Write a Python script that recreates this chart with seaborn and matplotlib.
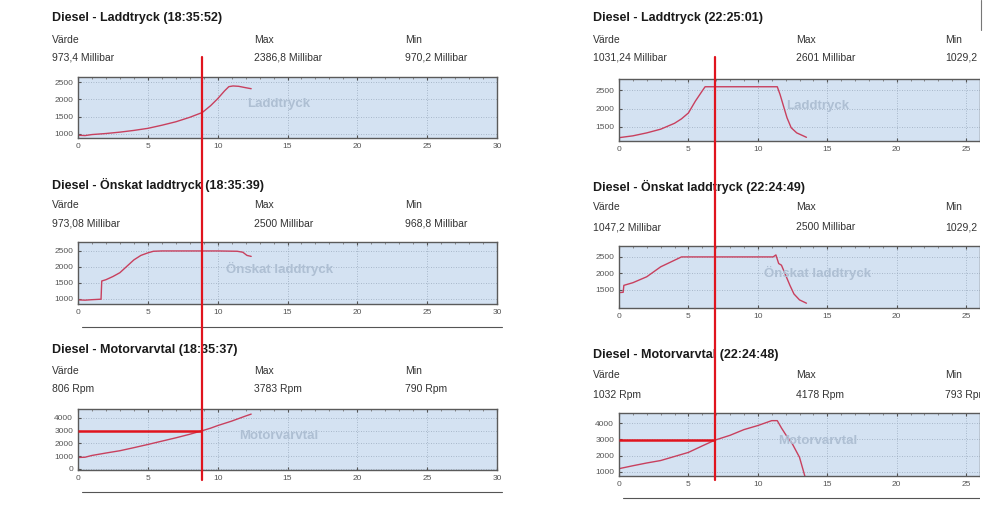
import matplotlib.pyplot as plt
import seaborn as sns
from matplotlib.lines import Line2D
from matplotlib.patches import Rectangle
from matplotlib.ticker import MultipleLocator
import matplotlib.transforms as mtransforms

# --- data ---------------------------------------------------------------
# left run (18:35)
left_ladd_t = [0, 0.5, 1, 2, 3, 4, 5, 6, 7, 8, 8.9, 9.5, 10, 10.5, 10.8, 11.1, 11.5, 12, 12.4]
left_ladd_v = [960, 950, 980, 1010, 1050, 1100, 1160, 1250, 1350, 1480, 1620, 1820, 2020,
               2250, 2370, 2390, 2380, 2340, 2310]

left_onsk_t = [0, 0.5, 1, 1.65, 1.7, 2, 2.5, 3, 3.5, 4, 4.5, 5, 5.4, 6, 8, 10, 11.4, 11.8, 12.1, 12.4]
left_onsk_v = [970, 960, 975, 990, 1560, 1600, 1700, 1820, 2020, 2220, 2360, 2440, 2490,
               2500, 2500, 2500, 2490, 2460, 2360, 2330]

left_rpm_t = [0, 0.5, 1, 2, 3, 4, 5, 6, 7, 8, 8.9, 9.5, 10, 11, 12, 12.4]
left_rpm_v = [900, 920, 1060, 1250, 1430, 1670, 1920, 2180, 2440, 2720, 3000, 3200, 3400,
              3750, 4150, 4300]

# right run (22:24)
right_ladd_t = [0, 1, 2, 3, 4, 4.5, 5, 5.5, 6, 6.2, 8, 10, 11.4, 11.6, 11.9, 12.1, 12.4, 12.8, 13.5]
right_ladd_v = [1210, 1260, 1340, 1440, 1600, 1720, 1880, 2200, 2480, 2590, 2590, 2590, 2590,
                2380, 2000, 1750, 1480, 1340, 1220]

right_onsk_t = [0, 0.3, 0.35, 1, 2, 3, 4, 4.5, 6, 8, 10, 11.1, 11.3, 11.5, 11.7, 12, 12.3, 12.6, 13, 13.5]
right_onsk_v = [1420, 1430, 1640, 1720, 1900, 2200, 2400, 2500, 2500, 2500, 2500, 2500, 2560,
                2300, 2250, 1950, 1650, 1380, 1200, 1100]

right_rpm_t = [0, 1, 2, 3, 4, 5, 6, 6.9, 8, 9, 10, 10.5, 11, 11.4, 11.7, 12, 12.5, 13, 13.4]
right_rpm_v = [1200, 1380, 1550, 1700, 1950, 2200, 2600, 2950, 3250, 3600, 3850, 4000, 4150,
               4150, 3700, 3300, 2700, 1900, 700]

left_cursor_t, left_cursor_rpm = 8.9, 3000
right_cursor_t, right_cursor_rpm = 6.9, 2950

titles_left = ["Diesel - Laddtryck (18:35:52)", "Diesel - Önskat laddtryck (18:35:39)",
               "Diesel - Motorvarvtal (18:35:37)"]
titles_right = ["Diesel - Laddtryck (22:25:01)", "Diesel - Önskat laddtryck (22:24:49)",
                "Diesel - Motorvarvtal (22:24:48)"]
values_left = [("973,4 Millibar", "2386,8 Millibar", "970,2 Millibar"),
               ("973,08 Millibar", "2500 Millibar", "968,8 Millibar"),
               ("806 Rpm", "3783 Rpm", "790 Rpm")]
values_right = [("1031,24 Millibar", "2601 Millibar", "1029,2"),
                ("1047,2 Millibar", "2500 Millibar", "1029,2"),
                ("1032 Rpm", "4178 Rpm", "793 Rpm")]
watermarks = ["Laddtryck", "Önskat laddtryck", "Motorvarvtal"]

W, H = 1000, 512
BG = "#d4e2f2"
LINE = "#c8405e"
RED = "#e0141e"

sns.set_style("white")
plt.rcParams["font.family"] = ["Liberation Sans", "DejaVu Sans"]

fig = plt.figure(figsize=(W / 100, H / 100), dpi=100)


def px_box(x0, y0, x1, y1):
    return [x0 / W, 1 - y1 / H, (x1 - x0) / W, (y1 - y0) / H]


def fig_text(x, y, s, color="#1a1a1a", **kw):
    fig.text(x / W, 1 - y / H, s, va="center", ha="left", color=color, **kw)


def make_panel(box, t, v, xlim, ylim, yticks, mark, mark_x):
    ax = fig.add_axes(px_box(*box))
    ax.set_facecolor(BG)
    sns.lineplot(x=t, y=v, ax=ax, color=LINE, linewidth=1.0, estimator=None, sort=False)
    ax.set_xlim(*xlim)
    ax.set_ylim(*ylim)
    ax.set_yticks(yticks)
    ax.xaxis.set_major_locator(MultipleLocator(5))
    ax.xaxis.set_minor_locator(MultipleLocator(1))
    ax.tick_params(axis="both", which="major", labelsize=6, labelcolor="#555555",
                   length=2, direction="in", top=True, bottom=True, left=True, color="#555555")
    ax.tick_params(axis="x", which="minor", length=1.5, direction="in", top=True, color="#777777")
    ax.grid(True, which="major", color="#9aaabd", linestyle=(0, (1, 2)), linewidth=0.6)
    for side, sp in ax.spines.items():
        sp.set_color("#5a5a5a")
        sp.set_linewidth(1.0)
    ax.text(mark_x, 0.56, mark, transform=ax.transAxes, ha="center", va="center",
            fontsize=9.5, fontweight="bold", color="#aebfd3")
    return ax


# --- panels --------------------------------------------------------------
left_boxes = [(78, 77, 497, 138), (78, 242, 497, 304), (78, 409, 497, 470)]
right_boxes = [(619, 79, 980, 141), (619, 246, 980, 308), (619, 413, 980, 476)]

left_axes = [
    make_panel(left_boxes[0], left_ladd_t, left_ladd_v, (0, 30), (880, 2650),
               [1000, 1500, 2000, 2500], watermarks[0], 0.48),
    make_panel(left_boxes[1], left_onsk_t, left_onsk_v, (0, 30), (840, 2780),
               [1000, 1500, 2000, 2500], watermarks[1], 0.48),
    make_panel(left_boxes[2], left_rpm_t, left_rpm_v, (0, 30), (-80, 4700),
               [0, 1000, 2000, 3000, 4000], watermarks[2], 0.48),
]
right_axes = [
    make_panel(right_boxes[0], right_ladd_t, right_ladd_v, (0, 26), (1120, 2800),
               [1500, 2000, 2500], watermarks[0], 0.55),
    make_panel(right_boxes[1], right_onsk_t, right_onsk_v, (0, 26), (955, 2830),
               [1500, 2000, 2500], watermarks[1], 0.55),
    make_panel(right_boxes[2], right_rpm_t, right_rpm_v, (0, 26), (750, 4620),
               [1000, 2000, 3000, 4000], watermarks[2], 0.55),
]

# --- header texts --------------------------------------------------------
left_rows = [(18, 40, 57), (185, 205, 224), (350, 371, 389)]
right_rows = [(18, 40, 58), (187, 207, 227), (355, 375, 395)]
for cols, rows, titles, values in [((52, 254, 405), left_rows, titles_left, values_left),
                                   ((593, 796, 945), right_rows, titles_right, values_right)]:
    for (ty, ly, vy), title, vals in zip(rows, titles, values):
        fig_text(cols[0], ty, title, fontsize=9, fontweight="bold")
        for cx, lab, val in zip(cols, ["Värde", "Max", "Min"], vals):
            fig_text(cx, ly, lab, fontsize=7.5, color="#333333")
            fig_text(cx, vy, val, fontsize=7.5, color="#333333")

# separator rules under the panels
for x0, x1, y in [(82, 502, 327), (82, 502, 492), (623, 980, 498)]:
    fig.add_artist(Line2D([x0 / W, x1 / W], [1 - y / H, 1 - y / H], color="#555555", linewidth=0.8))

# screenshot cut on the right edge
fig.add_artist(Rectangle((980 / W, 0), 20 / W, 1, transform=fig.transFigure,
                         facecolor="white", edgecolor="none", zorder=10))
fig.add_artist(Line2D([981 / W, 981 / W], [1, 1 - 30 / H], color="#777777", linewidth=0.8, zorder=11))

# --- red cursor lines ----------------------------------------------------
for axes, ct, crpm in [(left_axes, left_cursor_t, left_cursor_rpm),
                       (right_axes, right_cursor_t, right_cursor_rpm)]:
    trans = mtransforms.blended_transform_factory(axes[2].transData, fig.transFigure)
    fig.add_artist(Line2D([ct, ct], [1 - 57 / H, 1 - 480 / H], transform=trans,
                          color=RED, linewidth=1.6, zorder=12))
    axes[2].hlines(crpm, axes[2].get_xlim()[0], ct, color=RED, linewidth=1.8, zorder=5)

fig.savefig("out.png", dpi=100, facecolor="white")
